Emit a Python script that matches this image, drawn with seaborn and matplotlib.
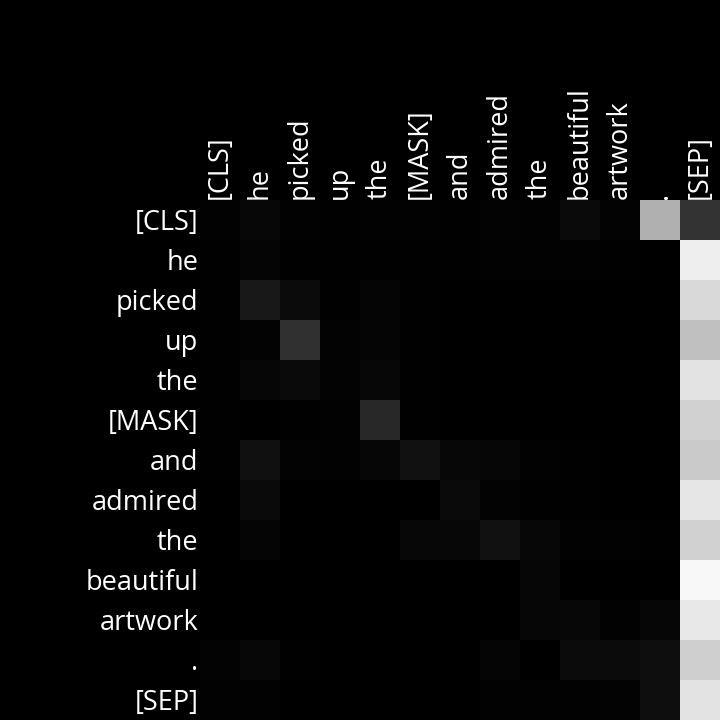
import numpy as np
import pandas as pd
import matplotlib
matplotlib.use("Agg")
import matplotlib.pyplot as plt
import matplotlib.transforms as mtransforms
import seaborn as sns

tokens = ["[CLS]", "he", "picked", "up", "the", "[MASK]", "and", "admired",
          "the", "beautiful", "artwork", ".", "[SEP]"]

row_cls = [0.010, 0.030, 0.010, 0.005, 0.010, 0.010, 0.005, 0.012, 0.010, 0.040, 0.015, 0.690, 0.200]
row_he = [0.005, 0.020, 0.005, 0.005, 0.005, 0.005, 0.005, 0.008, 0.008, 0.008, 0.005, 0.000, 0.930]
row_picked = [0.005, 0.094, 0.043, 0.005, 0.020, 0.005, 0.000, 0.000, 0.000, 0.000, 0.000, 0.000, 0.850]
row_up = [0.005, 0.012, 0.190, 0.015, 0.020, 0.005, 0.000, 0.000, 0.000, 0.000, 0.000, 0.000, 0.750]
row_the1 = [0.005, 0.024, 0.040, 0.015, 0.030, 0.005, 0.000, 0.000, 0.000, 0.000, 0.000, 0.000, 0.890]
row_mask = [0.005, 0.003, 0.005, 0.008, 0.157, 0.005, 0.003, 0.000, 0.000, 0.000, 0.000, 0.000, 0.820]
row_and = [0.005, 0.063, 0.012, 0.008, 0.024, 0.070, 0.030, 0.027, 0.010, 0.005, 0.003, 0.000, 0.790]
row_admired = [0.003, 0.040, 0.003, 0.003, 0.003, 0.003, 0.040, 0.015, 0.005, 0.005, 0.003, 0.000, 0.900]
row_the2 = [0.003, 0.020, 0.003, 0.003, 0.003, 0.030, 0.030, 0.070, 0.030, 0.010, 0.010, 0.005, 0.820]
row_beautiful = [0.003, 0.003, 0.003, 0.003, 0.003, 0.003, 0.000, 0.000, 0.024, 0.003, 0.003, 0.003, 0.970]
row_artwork = [0.003, 0.003, 0.003, 0.003, 0.003, 0.003, 0.000, 0.000, 0.024, 0.030, 0.008, 0.024, 0.910]
row_dot = [0.012, 0.030, 0.005, 0.003, 0.003, 0.003, 0.003, 0.020, 0.003, 0.043, 0.043, 0.055, 0.810]
row_sep = [0.008, 0.008, 0.003, 0.003, 0.003, 0.003, 0.003, 0.008, 0.008, 0.008, 0.012, 0.055, 0.890]

rows = [row_cls, row_he, row_picked, row_up, row_the1, row_mask, row_and,
        row_admired, row_the2, row_beautiful, row_artwork, row_dot, row_sep]
mat = np.array(rows)

plt.rcParams['font.family'] = ['Open Sans', 'DejaVu Sans']

fig = plt.figure(figsize=(7.2, 7.2), dpi=100, facecolor='black')
ax = fig.add_axes([200/720, 0, 520/720, 520/720])
ax.set_facecolor('black')
sns.heatmap(mat, ax=ax, cmap='gray', vmin=0, vmax=1, cbar=False,
            xticklabels=tokens, yticklabels=tokens, square=False)
ax.xaxis.tick_top()
ax.set_xticklabels(tokens, rotation=90, color='white', fontsize=19.5)
ax.set_yticklabels(tokens, rotation=0, color='white', fontsize=19.5)
ax.tick_params(axis='both', length=0, pad=1)
for s in ax.spines.values():
    s.set_visible(False)

offset = mtransforms.ScaledTranslation(0, -3/100, fig.dpi_scale_trans)
for lbl in ax.get_yticklabels():
    lbl.set_transform(lbl.get_transform() + offset)

fig.savefig('out.png', dpi=100, facecolor='black')
